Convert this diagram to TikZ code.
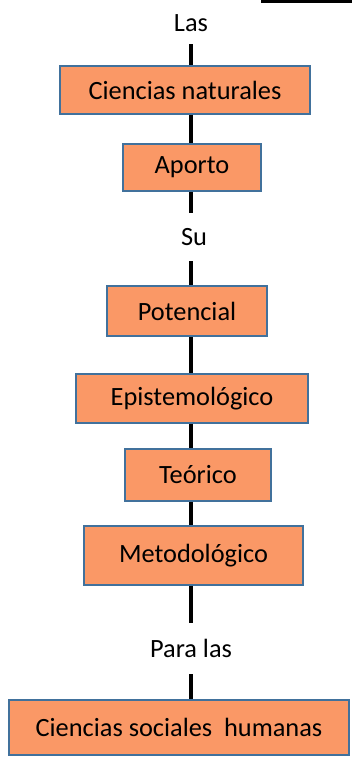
\documentclass[tikz,border=0pt]{standalone}
\usepackage{fontspec}
\setmainfont{Carlito}
\usepackage{tikz}
\usetikzlibrary{positioning}
\definecolor{boxfill}{RGB}{250,152,102}
\definecolor{boxline}{RGB}{65,113,156}

\begin{document}
\begin{tikzpicture}[
            x=0.02cm, y=-0.02cm,
            font=\fontsize{15}{18}\selectfont,
            concept/.style={rectangle, draw=boxline, line width=1.1pt, fill=boxfill, inner sep=0pt},
            word/.style={inner sep=0pt, minimum width=1cm},
            link/.style={line width=2.3pt, black}
        ]
        \useasboundingbox (0,0) rectangle (352,758);
        \fill[black] (261,0) rectangle (352,3);
        \coordinate (spine) at (191,0);
        \node[word, minimum height=0.84cm] (las) at (191,23) {Las};
        \node[concept, minimum width=5cm, minimum height=0.96cm] (natural) at (185,90) {Ciencias naturales};
        \node[concept, minimum width=2.76cm, minimum height=0.94cm] (aporto) at (192,167.5) {Aporto};
        \node[word, minimum height=0.96cm] (su) at (194,237) {Su};
        \node[concept, minimum width=3.2cm, minimum height=1cm] (potencial) at (187,311) {Potencial};
        \node[concept, minimum width=4.64cm, minimum height=0.98cm] (episte) at (192,398.5) {Epistemológico};
        \node[concept, minimum width=2.92cm, minimum height=1.04cm] (teorico) at (198,475) {Teórico};
        \node[concept, minimum width=4.38cm, minimum height=1.18cm] (metodo) at (193.5,555.5) {Metodológico};
        \node[word, minimum height=1.02cm] (para) at (191,648.5) {Para las};
        \node[concept, minimum width=6.8cm, minimum height=1.1cm] (social) at (179,727.5) {Ciencias sociales\ \ humanas};
        % tronco vertical
        \draw[link] (spine |- las.south) -- (spine |- natural.north);
        \draw[link] (spine |- natural.south) -- (spine |- aporto.north);
        \draw[link] (spine |- aporto.south) -- (spine |- su.north);
        \draw[link] (spine |- su.south) -- (spine |- potencial.north);
        \draw[link] (spine |- potencial.south) -- (spine |- episte.north);
        \draw[link] (spine |- episte.south) -- (spine |- teorico.north);
        \draw[link] (spine |- teorico.south) -- (spine |- metodo.north);
        \draw[link] (spine |- metodo.south) -- (spine |- para.north);
        \draw[link] (spine |- para.south) -- (spine |- social.north);
\end{tikzpicture}
\end{document}
